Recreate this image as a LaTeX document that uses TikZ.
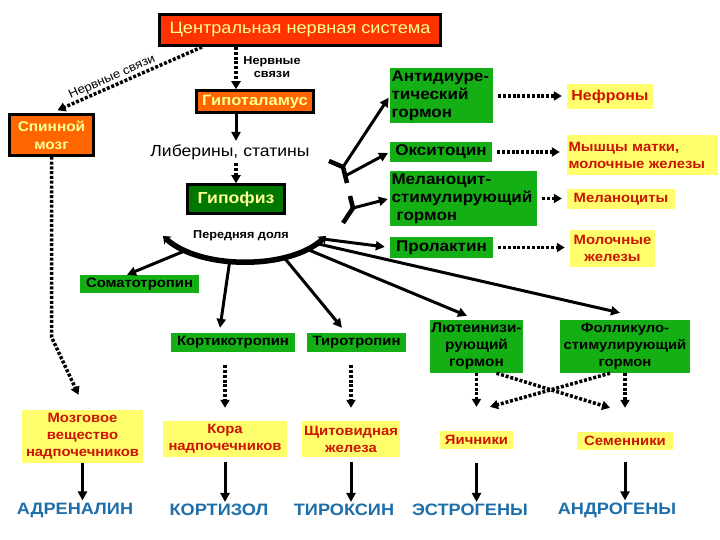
\documentclass[tikz,border=0pt]{standalone}
\usepackage{fontspec}
\setmainfont[FakeStretch=1.1]{Liberation Sans}
\usepackage{tikz}
\usetikzlibrary{arrows.meta, positioning, calc}
\definecolor{cnsred}{RGB}{255,51,0}
\definecolor{myorange}{RGB}{255,102,0}
\definecolor{pitgreen}{RGB}{0,120,0}
\definecolor{hormgreen}{RGB}{20,175,20}
\definecolor{tgtyellow}{RGB}{255,255,110}
\definecolor{tgtred}{RGB}{205,20,0}
\definecolor{prodblue}{RGB}{30,110,170}
\definecolor{paleyellow}{RGB}{255,255,150}
\tikzset{
  cnsbox/.style={rectangle, draw=black, fill=cnsred, line width=3pt,
    text=paleyellow, minimum width=281pt, minimum height=31pt,
    font=\fontsize{16.5}{18}\selectfont},
  orangebox/.style={rectangle, draw=black, fill=myorange, line width=2.5pt,
    text=paleyellow, align=center, inner sep=1pt,
    font=\fontsize{14}{18}\selectfont\bfseries},
  pitbox/.style={rectangle, draw=black, fill=pitgreen, line width=2.5pt,
    text=paleyellow, minimum width=97pt, minimum height=29pt,
    font=\fontsize{16}{18}\selectfont\bfseries},
  hormbox/.style={rectangle, fill=hormgreen, text=black, inner sep=1.5pt,
    font=\fontsize{13.5}{17}\selectfont\bfseries},
  posthorm/.style={hormbox, font=\fontsize{15.5}{18}\selectfont\bfseries},
  targetbox/.style={rectangle, fill=tgtyellow, text=tgtred, inner sep=1.5pt,
    align=center, font=\fontsize{13.5}{17}\selectfont\bfseries},
  product/.style={text=prodblue, inner sep=2pt,
    font=\fontsize{16.5}{18}\selectfont\bfseries},
  sublabel/.style={align=center, inner sep=1pt,
    font=\fontsize{11.5}{13}\selectfont\bfseries},
  solidarrow/.style={-{Triangle[length=9pt,width=9pt]}, line width=3pt},
  dotarrow/.style={-{Triangle[length=8pt,width=9pt]}, line width=3.5pt,
    dash pattern=on 3pt off 1.8pt},
  arcline/.style={line width=5.5pt},
  yline/.style={line width=4.5pt}
}
\begin{document}
\begin{tikzpicture}[x=1pt, y=-1pt]
  \useasboundingbox (0,0) rectangle (720,540);

  % Nervous system and hypothalamus
  \node[cnsbox] (cns) at (300,30) {Центральная нервная система};
  \node[orangebox, minimum width=84pt, minimum height=41pt] (spinal) at (51.5,135) {Спинной\\мозг};
  \node[orangebox, minimum width=117pt, minimum height=22pt, font=\fontsize{15}{17}\selectfont\bfseries] (hypo) at (255,101.5) {Гипоталамус};
  \node[sublabel] (nervlabel) at (272,67) {Нервные\\связи};
  \node[font=\fontsize{16}{18}\selectfont] (libstat) at (230,152) {Либерины, статины};
  \node[pitbox] (pit) at (236,199) {Гипофиз};
  \node[sublabel] (antlobe) at (241,236) {Передняя доля};

  % Posterior lobe hormones
  \node[posthorm, text width=100pt, minimum height=55pt, align=left] (adh) at (441.5,96) {Антидиуре-\\тический\\гормон};
  \node[posthorm, minimum width=102pt, minimum height=20pt] (oxy) at (441,152) {Окситоцин};
  \node[posthorm, text width=144pt, minimum height=55pt, align=left] (msh) at (463.5,198.5) {Меланоцит-\\стимулирующий\\\ гормон};
  \node[posthorm, minimum width=103pt, minimum height=21pt] (prl) at (441.5,247.5) {Пролактин};

  % Targets on the right
  \node[targetbox, minimum width=86pt, minimum height=25pt, font=\fontsize{14.5}{17}\selectfont\bfseries] (nephr) at (610,97) {Нефроны};
  \node[targetbox, text width=148pt, minimum height=40pt, align=left] (uterus) at (642.5,155) {Мышцы матки,\\молочные железы};
  \node[targetbox, minimum width=108pt, minimum height=20pt] (melan) at (621,199) {Меланоциты};
  \node[targetbox, minimum width=85pt, minimum height=37pt] (mamm) at (612.5,248.5) {Молочные\\железы};

  % Anterior lobe hormones
  \node[hormbox, minimum width=119pt, minimum height=18pt] (soma) at (139.5,284) {Соматотропин};
  \node[hormbox, minimum width=124pt, minimum height=19pt] (cort) at (233,342.5) {Кортикотропин};
  \node[hormbox, minimum width=99pt, minimum height=19pt] (tiro) at (356.5,342.5) {Тиротропин};
  \node[hormbox, minimum width=93pt, minimum height=53pt, align=center, font=\fontsize{14}{17}\selectfont\bfseries] (lh) at (476.5,346.5) {Лютеинизи-\\рующий\\гормон};
  \node[hormbox, minimum width=130pt, minimum height=53pt, align=center] (fsh) at (625,346.5) {Фолликуло-\\стимулирующий\\гормон};

  % Glands
  \node[targetbox, minimum width=121pt, minimum height=53pt] (medulla) at (82.5,436.5) {Мозговое\\вещество\\надпочечников};
  \node[targetbox, minimum width=124pt, minimum height=36pt] (cortex) at (225,439) {Кора\\надпочечников};
  \node[targetbox, minimum width=98pt, minimum height=36pt] (thyroid) at (351,439) {Щитовидная\\железа};
  \node[targetbox, minimum width=73pt, minimum height=18pt] (ovary) at (476.5,440) {Яичники};
  \node[targetbox, minimum width=96pt, minimum height=18pt] (testes) at (625,441) {Семенники};

  % Products
  \node[product] (adren) at (75,510) {АДРЕНАЛИН};
  \node[product] (cortisol) at (219,510) {КОРТИЗОЛ};
  \node[product] (thyrox) at (344,510) {ТИРОКСИН};
  \node[product] (estro) at (470,510) {ЭСТРОГЕНЫ};
  \node[product] (andro) at (617,510) {АНДРОГЕНЫ};

  % Nerve links
  \draw[dotarrow] ([xshift=44pt]cns.south west) -- ([xshift=6pt, yshift=3pt]spinal.north)
    node[sloped, above, pos=0.6, sublabel, font=\fontsize{12}{13}\selectfont]{Нервные связи};
  \draw[dotarrow] (cns.south -| pit.north) -- (hypo.north -| pit.north);
  \draw[solidarrow] (hypo.south -| pit.north) -- (libstat.north -| pit.north);
  \draw[dotarrow] (libstat.south -| pit.north) -- (pit.north);
  \draw[dotarrow] (spinal.south) -- (spinal.south |- 0,337) -- ([xshift=-4pt, yshift=15pt]medulla.north);

  % Anterior lobe arc
  \coordinate (arcL) at (163,236);
  \coordinate (arcR) at (326,236);
  \draw[arcline, {Stealth[length=7pt,width=11pt]}-{Stealth[length=7pt,width=11pt]}]
    (arcL) .. controls (200,270) and (290,270) .. (arcR)
    coordinate[pos=0.17] (asoma) coordinate[pos=0.42] (acort)
    coordinate[pos=0.71] (atiro) coordinate[pos=0.85] (alh)
    coordinate[pos=0.92] (afsh) coordinate[pos=0.97] (aprl);
  \draw[solidarrow] (asoma) -- ([xshift=-12.5pt]soma.north);
  \draw[solidarrow] (acort) -- ([xshift=-13pt, yshift=5pt]cort.north);
  \draw[solidarrow] (atiro) -- ([xshift=-14.5pt, yshift=5pt]tiro.north);
  \draw[solidarrow] (alh) -- ([xshift=-9.5pt, yshift=4pt]lh.north);
  \draw[solidarrow] (afsh) -- ([xshift=-5pt, yshift=7pt]fsh.north);
  \draw[solidarrow, shorten >=5pt] (aprl) -- (prl.west);

  % Posterior lobe branches
  \coordinate (ypost) at (343,167);
  \coordinate (ymsh) at (353,208);
  \draw[yline] (ypost) -- ++(-14,-6);
  \draw[yline] (ypost) -- ++(4,16);
  \draw[yline] (ymsh) -- ++(-3,-12);
  \draw[yline] (ymsh) -- ++(-10,15);
  \draw[solidarrow, shorten >=2pt] (ypost) -- (adh.west);
  \draw[solidarrow, shorten >=2pt] ($(ypost)+(4,8)$) -- (oxy.west);
  \draw[solidarrow, shorten >=2pt] (ymsh) -- (msh.west);

  % Posterior lobe targets
  \draw[dotarrow, shorten <=5pt, shorten >=5pt] (adh.east) -- (adh.east -| nephr.west);
  \draw[dotarrow, shorten <=5pt, shorten >=7pt] (oxy.east) -- (oxy.east -| uterus.west);
  \draw[dotarrow, shorten <=5pt, shorten >=5pt] (msh.east) -- (msh.east -| melan.west);
  \draw[dotarrow, shorten <=5pt, shorten >=5pt] (prl.east) -- (prl.east -| mamm.west);

  % Anterior lobe targets
  \draw[dotarrow] ([yshift=-13pt]cort.south -| cortex.north) -- ([yshift=13pt]cortex.north);
  \draw[dotarrow] ([yshift=-13pt]tiro.south -| thyroid.north) -- ([yshift=13pt]thyroid.north);
  \draw[dotarrow] (lh.south) -- ([yshift=24pt]ovary.north);
  \draw[dotarrow] ([xshift=20pt]lh.south) -- ([xshift=-15pt, yshift=24pt]testes.north);
  \draw[dotarrow] (fsh.south) -- ([yshift=24pt]fsh.south |- testes.north);
  \draw[dotarrow] ([xshift=-15pt]fsh.south) -- ([xshift=13.5pt, yshift=24pt]ovary.north);

  % Glands to products
  \draw[solidarrow] (medulla.south) -- (adren.north -| medulla.south);
  \draw[solidarrow, shorten <=5pt] (cortex.south) -- (cortisol.north -| cortex.south);
  \draw[solidarrow, shorten <=5pt] (thyroid.south) -- (thyrox.north -| thyroid.south);
  \draw[solidarrow, shorten <=14pt] (ovary.south) -- (estro.north -| ovary.south);
  \draw[solidarrow, shorten <=12pt] (testes.south) -- (andro.north -| testes.south);
\end{tikzpicture}
\end{document}
